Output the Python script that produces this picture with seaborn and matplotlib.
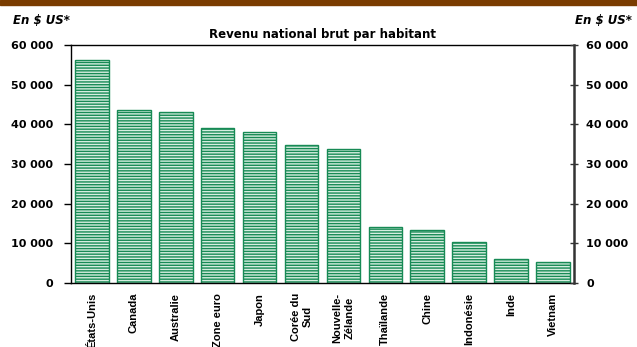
import matplotlib
matplotlib.use("Agg")
import matplotlib.pyplot as plt
import seaborn as sns
import pandas as pd
from matplotlib.ticker import FuncFormatter

# Revenu national brut par habitant (en $ US)
pays = ["États-Unis", "Canada", "Australie", "Zone euro", "Japon", "Corée du\nSud",
        "Nouvelle-\nZélande", "Thaïlande", "Chine", "Indonésie", "Inde", "Vietnam"]
rnb = [56100, 43500, 43100, 39200, 38000, 34900, 33900, 14000, 13300, 10400, 6000, 5400]
y_ticks = [0, 10000, 20000, 30000, 40000, 50000, 60000]

df = pd.DataFrame({"pays": pays, "rnb": rnb})

sns.set_theme(style="white")
plt.rcParams["font.family"] = ["DejaVu Sans"]
plt.rcParams["font.weight"] = "bold"
plt.rcParams["hatch.linewidth"] = 1.0
for key in ["text.color", "axes.labelcolor", "xtick.color", "ytick.color"]:
    plt.rcParams[key] = "black"

green = "#178a55"
fig = plt.figure(figsize=(6.37, 3.47), dpi=100)
ax = fig.add_axes([0.1115, 0.1844, 0.7895, 0.6859])

sns.barplot(data=df, x="pays", y="rnb", color="#d6eee0", width=0.8,
            saturation=1, ax=ax)
for p in ax.patches:
    p.set_hatch("------")
    p.set_edgecolor(green)
    p.set_linewidth(1.0)

fmt = FuncFormatter(lambda v, _: f"{int(v):,}".replace(",", " "))
ax.set_ylim(0, 60000)
ax.set_xlim(-0.5, len(pays) - 0.5)
ax.set_yticks(y_ticks)
ax.yaxis.set_major_formatter(fmt)
ax.set_xlabel("")
ax.set_ylabel("")
ax.tick_params(axis="y", left=True, direction="out", length=5, width=1,
               color="black", pad=8, labelsize=8, labelcolor="black")
ax.tick_params(axis="x", bottom=False, pad=1, labelsize=8, labelcolor="black")
for lab in ax.get_xticklabels():
    lab.set_rotation(90)
    lab.set_va("top")
    lab.set_ha("center")
    lab.set_multialignment("center")
    lab.set_fontweight("bold")
    lab.set_family(["Liberation Sans", "DejaVu Sans"])
for lab in ax.get_yticklabels():
    lab.set_fontweight("bold")

for s in ["left", "top", "bottom"]:
    ax.spines[s].set_visible(True)
    ax.spines[s].set_color("black")
    ax.spines[s].set_linewidth(1.0)
ax.spines["right"].set_visible(False)

ax2 = ax.twinx()
ax2.set_ylim(0, 60000)
ax2.set_yticks(y_ticks)
ax2.yaxis.set_major_formatter(fmt)
ax2.grid(False)
for s in ["left", "top", "bottom"]:
    ax2.spines[s].set_visible(False)
ax2.spines["right"].set_visible(True)
ax2.spines["right"].set_color("#333333")
ax2.spines["right"].set_linewidth(1.8)
ax2.tick_params(axis="y", right=True, direction="inout", length=6, width=1,
                color="#333333", pad=6, labelsize=8, labelcolor="black")
for lab in ax2.get_yticklabels():
    lab.set_fontweight("bold")

ax.set_title("Revenu national brut par habitant", fontsize=8.5, fontweight="bold",
             color="black", pad=5)

fig.text(13 / 637, 1 - 20 / 347, "En $ US*", fontsize=8.5, fontweight="bold",
         style="italic", ha="left", va="center", color="black")
fig.text(632 / 637, 1 - 20 / 347, "En $ US*", fontsize=8.5, fontweight="bold",
         style="italic", ha="right", va="center", color="black")

# bandeau brun en haut
fig.patches.append(plt.Rectangle((0, 1 - 5 / 347), 1, 5 / 347,
                                 transform=fig.transFigure, color="#7a3c00",
                                 zorder=10))

fig.savefig("out.png", dpi=100)
